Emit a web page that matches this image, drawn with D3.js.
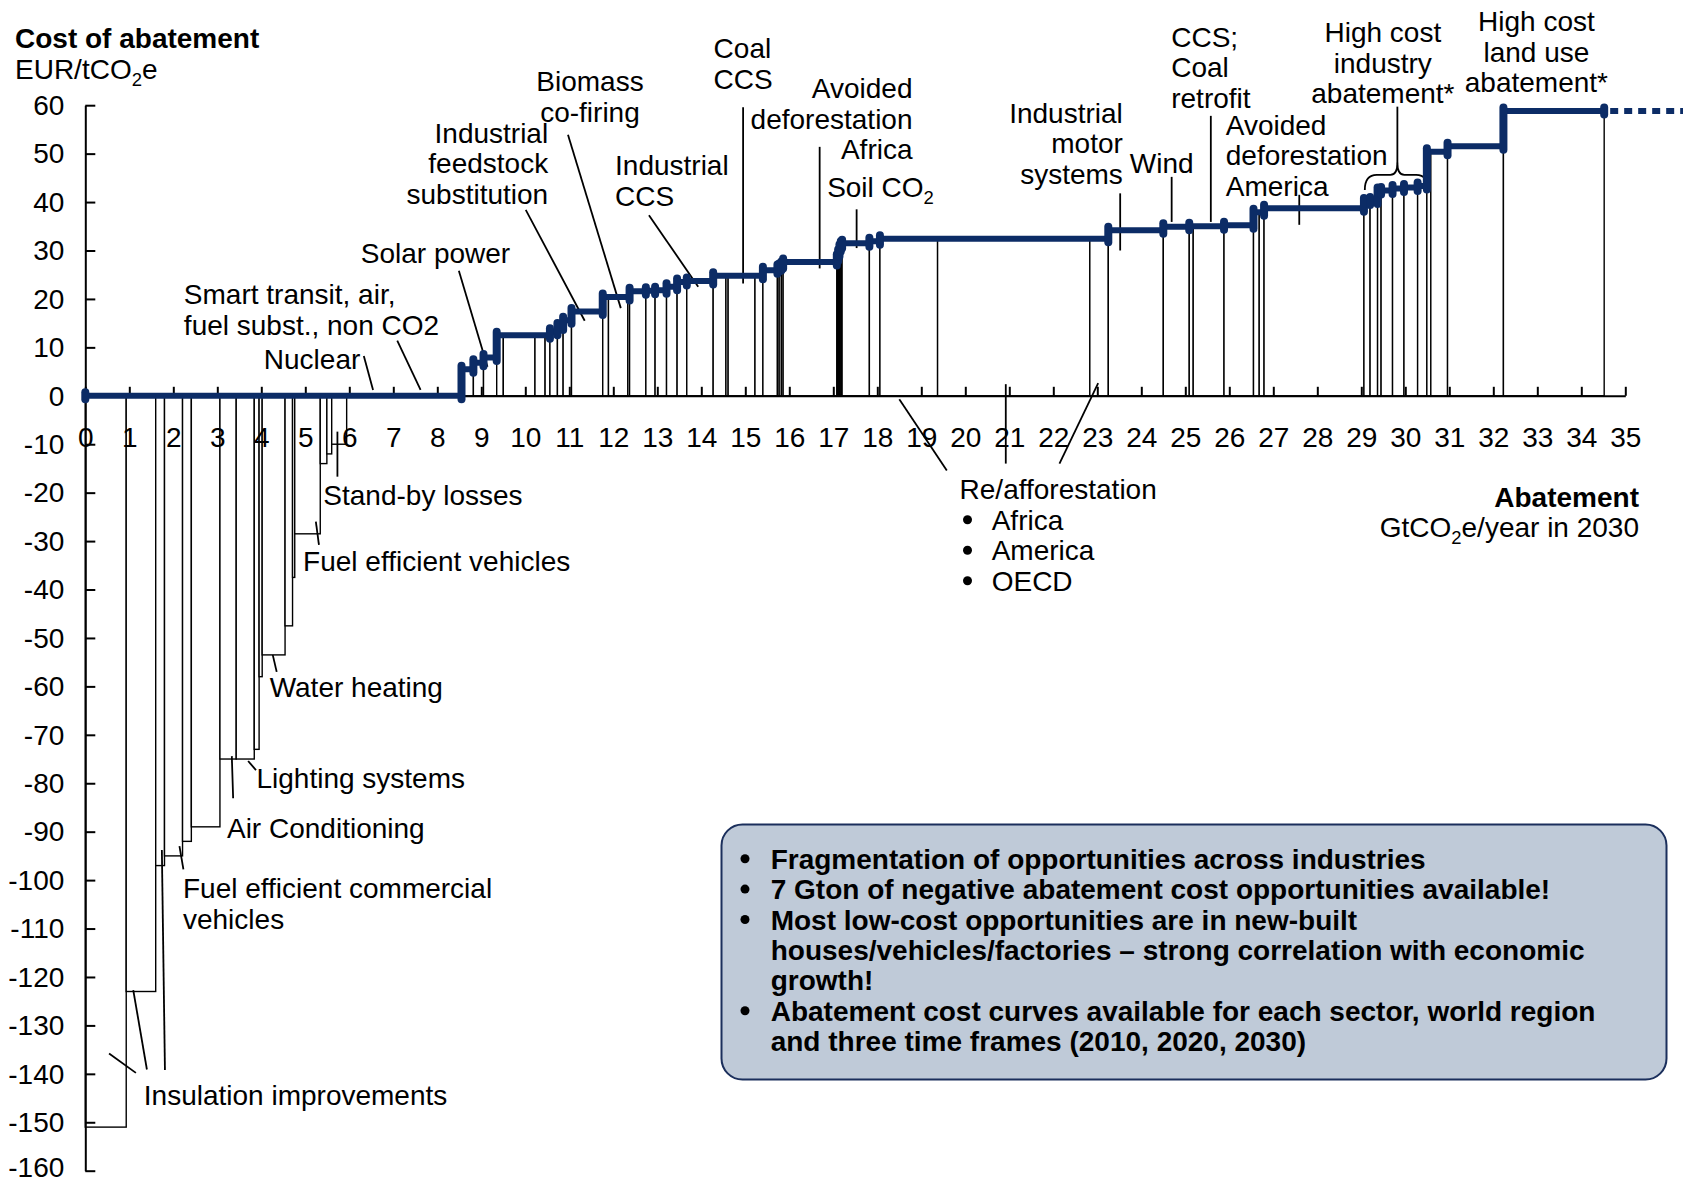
<!DOCTYPE html>
<html>
<head>
<meta charset="utf-8">
<script src="https://cdn.jsdelivr.net/npm/d3@7"></script>
<style>
  body { margin: 0; background: #fff; }
  svg text { font-family: "Liberation Sans", Arial, sans-serif; fill: #000; }
</style>
</head>
<body>
<svg id="chart" width="1683" height="1184"></svg>
<script>
// Abatement levers in merit order: width = GtCO2e/year, cost = EUR/tCO2e
const leverWidths = [
  0.93, 0.67, 0.20, 0.41, 0.20, 0.65, 0.37, 0.41, 0.11, 0.07,
  0.52, 0.17, 0.05, 0.58, 0.15, 0.11, 0.34, 1.26, 1.35, 0.27,
  0.23, 0.30, 0.15, 0.72, 0.23, 0.11, 0.17, 0.13, 0.19, 0.71,
  0.13, 0.44, 0.04, 0.37, 0.21, 0.26, 0.24, 0.22, 0.60, 0.29,
  0.05, 0.61, 0.18, 0.33, 0.04, 0.05, 0.04, 1.22, 0.03, 0.03,
  0.03, 0.03, 0.62, 0.24, 1.31, 3.46, 0.42, 1.25, 0.59, 0.09,
  0.70, 0.67, 0.13, 0.11, 2.27, 0.14, 0.17, 0.08, 0.26, 0.26,
  0.31, 0.21, 0.09, 0.38, 1.27, 2.29
];
const leverCosts = [
  -151, -123, -97, -95, -92, -89, -75, -75, -73, -58,
  -53.5, -47.5, -37.5, -28.5, -14, -12, -10, 0, 0, 5.5,
  6.8, 7.9, 12.5, 12.5, 12.5, 12.5, 13.2, 14.3, 15.6, 17.4,
  20.4, 20.4, 20.4, 21.6, 21.7, 21.8, 22.5, 23.5, 23.7, 24.8,
  24.8, 24.8, 24.8, 25.9, 26.4, 26.6, 27.0, 27.6, 28.5, 29.5,
  30.5, 31.2, 31.5, 31.9, 32.4, 32.4, 32.4, 34.2, 34.9, 35.0,
  35.0, 35.2, 37.9, 37.9, 38.7, 40.1, 40.3, 42.3, 42.4, 42.8,
  43.0, 43.3, 50.4, 50.4, 51.5, 58.8
];
const xTicks = d3.range(0, 36);
const yTicks = d3.range(-160, 61, 10);

// Lever labels: position in chart units, anchor, leader lines [x1,y1,x2,y2]
const leverLabels = [
  { lines: ["Insulation improvements"], x: 1.33, y: -144.4, anchor: "start",
    leaders: [[0.54, -135.8, 1.15, -139.8], [1.09, -122.7, 1.40, -139.1], [1.74, -93.8, 1.81, -139.2]] },
  { lines: ["Fuel efficient commercial", "vehicles"], x: 2.22, y: -101.7, anchor: "start",
    leaders: [[2.14, -93.0, 2.23, -97.8]] },
  { lines: ["Air Conditioning"], x: 3.22, y: -89.3, anchor: "start", leaders: [[3.33, -74.4, 3.36, -83.1]] },
  { lines: ["Lighting systems"], x: 3.89, y: -79.0, anchor: "start", leaders: [[3.70, -75.4, 3.88, -77.3]] },
  { lines: ["Water heating"], x: 4.19, y: -60.1, anchor: "start", leaders: [[4.26, -53.5, 4.35, -57.0]] },
  { lines: ["Fuel efficient vehicles"], x: 4.95, y: -34.0, anchor: "start", leaders: [[5.24, -26.0, 5.31, -30.8]] },
  { lines: ["Stand-by losses"], x: 5.41, y: -20.5, anchor: "start", leaders: [[5.73, -7.4, 5.73, -16.7]] },
  { lines: ["Nuclear"], x: 6.25, y: 7.7, anchor: "end", leaders: [[6.33, 8.2, 6.54, 1.2]] },
  { lines: ["Smart transit, air,", "fuel subst., non CO2"], x: 2.24, y: 21.0, anchor: "start",
    leaders: [[7.09, 11.4, 7.62, 1.2]] },
  { lines: ["Solar power"], x: 6.26, y: 29.5, anchor: "start", leaders: [[8.49, 25.8, 9.14, 6.0]] },
  { lines: ["Industrial", "feedstock", "substitution"], x: 10.52, y: 54.3, anchor: "end",
    leaders: [[10.01, 38.4, 11.35, 15.5]] },
  { lines: ["Biomass", "co-firing"], x: 11.47, y: 65.0, anchor: "middle", leaders: [[10.97, 53.9, 12.17, 18.1]] },
  { lines: ["Industrial", "CCS"], x: 12.04, y: 47.6, anchor: "start", leaders: [[12.81, 37.3, 13.93, 22.5]] },
  { lines: ["Coal", "CCS"], x: 14.28, y: 71.8, anchor: "start", leaders: [[14.95, 59.6, 14.95, 23.2]] },
  { lines: ["Avoided", "deforestation", "Africa"], x: 18.80, y: 63.5, anchor: "end",
    leaders: [[16.69, 51.4, 16.69, 26.3]] },
  { lines: ["Soil CO_2"], x: 16.86, y: 43.1, anchor: "start", leaders: [[17.53, 38.5, 17.53, 30.5]] },
  { lines: ["Re/afforestation"], x: 19.87, y: -19.3, anchor: "start",
    leaders: [[18.50, -0.7, 19.58, -15.4], [20.92, 2.4, 20.92, -14.0], [23.02, 2.6, 22.14, -14.0]] },
  { lines: ["Industrial", "motor", "systems"], x: 23.58, y: 58.5, anchor: "end", leaders: [[23.52, 41.8, 23.52, 30.0]] },
  { lines: ["Wind"], x: 23.74, y: 48.0, anchor: "start", leaders: [[24.69, 45.2, 24.69, 35.9]] },
  { lines: ["CCS;", "Coal", "retrofit"], x: 24.68, y: 74.2, anchor: "start", leaders: [[25.58, 57.8, 25.58, 35.9]] },
  { lines: ["Avoided", "deforestation", "America"], x: 25.92, y: 56.0, anchor: "start",
    leaders: [[27.59, 41.5, 27.59, 35.3]] },
  { lines: ["High cost", "industry", "abatement*"], x: 29.49, y: 75.1, anchor: "middle",
    leaders: [[29.82, 59.7, 29.82, 48.0]] },
  { lines: ["High cost", "land use", "abatement*"], x: 32.98, y: 77.3, anchor: "middle", leaders: [] }
];
const reforestRegions = ["Africa", "America", "OECD"];
const boxBullets = [
  ["Fragmentation of opportunities across industries"],
  ["7 Gton of negative abatement cost opportunities available!"],
  ["Most low-cost opportunities are in new-built",
   "houses/vehicles/factories \u2013 strong correlation with economic",
   "growth!"],
  ["Abatement cost curves available for each sector, world region",
   "and three time frames (2010, 2020, 2030)"]
];

const navy = "#0c2c66";
const fontSize = 28;
const lineH = 30.5;

const svg = d3.select("#chart");
const x = d3.scaleLinear().domain([0, 35]).range([85.3, 1625.3]);
const y = d3.scaleLinear().domain([-160, 60]).range([1170.7, 105.2]);

const starts = [0, ...d3.cumsum(leverWidths)];
const total = starts[starts.length - 1];
const bars = leverCosts.map((c, i) => ({ x0: starts[i], x1: starts[i + 1], c }));

// writes a text line, "_2" becomes a subscript
function writeLine(sel, str) {
  const parts = str.split(/_(\d)/);
  parts.forEach((p, i) => {
    if (!p) return;
    if (i % 2) {
      sel.append("tspan").attr("font-size", fontSize * 0.66).attr("dy", 7).text(p);
    } else {
      const t = sel.append("tspan").text(p);
      if (i > 0) t.attr("dy", -7);
    }
  });
}

function addLabel(g, lines, px, py, anchor, opts = {}) {
  const t = g.append("text")
    .attr("x", px).attr("y", py)
    .attr("text-anchor", anchor)
    .attr("font-size", opts.size || fontSize)
    .attr("font-weight", opts.bold ? "bold" : null);
  lines.forEach((l, i) => {
    const line = t.append("tspan").attr("x", px).attr("y", py + i * (opts.lh || lineH)).attr("dy", "0.36em");
    writeLine(line, l);
  });
  return t;
}

function addBullet(g, px, py) {
  g.append("circle").attr("cx", px).attr("cy", py).attr("r", 4.5).attr("fill", "#000");
}

// Bars
svg.append("g").selectAll("rect")
  .data(bars.filter(b => b.c !== 0))
  .enter().append("rect")
  .attr("x", d => x(d.x0))
  .attr("width", d => x(d.x1) - x(d.x0))
  .attr("y", d => y(Math.max(0, d.c)))
  .attr("height", d => Math.abs(y(d.c) - y(0)))
  .attr("fill", "#fff")
  .attr("stroke", "#000")
  .attr("stroke-width", 1.4);

// Axes
const xAxis = svg.append("g")
  .attr("transform", `translate(0,${y(0)})`)
  .call(d3.axisBottom(x).tickValues(xTicks).tickSizeInner(-9).tickSizeOuter(0).tickPadding(31)
    .tickFormat(d => String(d)));
const yAxis = svg.append("g")
  .attr("transform", `translate(${x(0)},0)`)
  .call(d3.axisLeft(y).tickValues(yTicks).tickSizeInner(-10).tickSizeOuter(0).tickPadding(21)
    .tickFormat(d => String(d)));
[xAxis, yAxis].forEach(a => {
  a.attr("font-size", fontSize).attr("font-family", "Liberation Sans, Arial, sans-serif");
  a.selectAll("path, line").attr("stroke", "#000").attr("stroke-width", 2);
  a.selectAll("text").attr("fill", "#000");
});
// bottom label sits on the picture edge, lift it slightly
yAxis.selectAll("text").attr("dy", d => d === -160 ? "0.2em" : "0.33em");

// Leader lines
const leaderG = svg.append("g").attr("stroke", "#000").attr("stroke-width", 1.8);
leverLabels.forEach(l => l.leaders.forEach(s => {
  leaderG.append("line")
    .attr("x1", x(s[0])).attr("y1", y(s[1]))
    .attr("x2", x(s[2])).attr("y2", y(s[3]));
}));

// Brace over high-cost industry levers
const bx0 = x(29.08), bx1 = x(30.52), bm = x(29.82);
const byEnd = y(42.5), byTop = y(45.6), byPeak = y(48.1);
svg.append("path")
  .attr("d", `M${bx0},${byEnd} Q${bx0},${byTop} ${bx0 + 12},${byTop} L${bm - 7},${byTop} Q${bm},${byTop} ${bm},${byPeak}
              Q${bm},${byTop} ${bm + 7},${byTop} L${bx1 - 12},${byTop} Q${bx1},${byTop} ${bx1},${byEnd}`)
  .attr("fill", "none").attr("stroke", "#000").attr("stroke-width", 1.8);

// Cost curve (step line)
const curvePts = bars.map(b => [b.x0, Math.max(0, b.c)]);
curvePts.push([total, Math.max(0, leverCosts[leverCosts.length - 1])]);
svg.append("path")
  .datum(curvePts)
  .attr("d", d3.line().x(d => x(d[0])).y(d => y(d[1])).curve(d3.curveStepAfter))
  .attr("fill", "none").attr("stroke", navy).attr("stroke-width", 6);

svg.append("line")
  .attr("x1", x(total) + 6).attr("x2", 1683)
  .attr("y1", y(leverCosts[leverCosts.length - 1])).attr("y2", y(leverCosts[leverCosts.length - 1]))
  .attr("stroke", navy).attr("stroke-width", 6).attr("stroke-dasharray", "8 6");

// Step markers where the cost changes
const steps = [{ xv: 0, a: 0, b: 0 }];
bars.forEach((b, i) => {
  if (i === 0) return;
  const a = Math.max(0, bars[i - 1].c), c = Math.max(0, b.c);
  if (a !== c) steps.push({ xv: b.x0, a, b: c });
});
steps.push({ xv: total, a: leverCosts[leverCosts.length - 1], b: leverCosts[leverCosts.length - 1] });
svg.append("g").selectAll("line")
  .data(steps)
  .enter().append("line")
  .attr("x1", d => x(d.xv)).attr("x2", d => x(d.xv))
  .attr("y1", d => y(Math.max(d.a, d.b)) - 3.5)
  .attr("y2", d => y(Math.min(d.a, d.b)) + 3.5)
  .attr("stroke", navy).attr("stroke-width", 8).attr("stroke-linecap", "round");

// Lever labels
const labelG = svg.append("g");
leverLabels.forEach(l => addLabel(labelG, l.lines, x(l.x), y(l.y), l.anchor));
reforestRegions.forEach((r, i) => {
  const py = y(-19.3) + (i + 1) * lineH;
  addBullet(labelG, x(20.05), py);
  addLabel(labelG, [r], x(20.60), py, "start");
});

// Axis titles
addLabel(svg, ["Cost of abatement"], 15, 38, "start", { bold: true });
addLabel(svg, ["EUR/tCO_2e"], 15, 69, "start");
addLabel(svg, ["Abatement"], 1639, 497, "end", { bold: true });
addLabel(svg, ["GtCO_2e/year in 2030"], 1639, 527, "end");

// Key message box
const box = svg.append("g");
box.append("rect")
  .attr("x", 721.5).attr("y", 824.5).attr("width", 945).attr("height", 255)
  .attr("rx", 21).attr("fill", "#bfcad8").attr("stroke", "#1b2f5c").attr("stroke-width", 2);
let row = 0;
boxBullets.forEach(b => {
  const py = 858.7 + row * 30.4;
  addBullet(box, 745, py);
  addLabel(box, b, 770.7, py, "start", { bold: true, lh: 30.4 });
  row += b.length;
});
</script>
</body>
</html>
